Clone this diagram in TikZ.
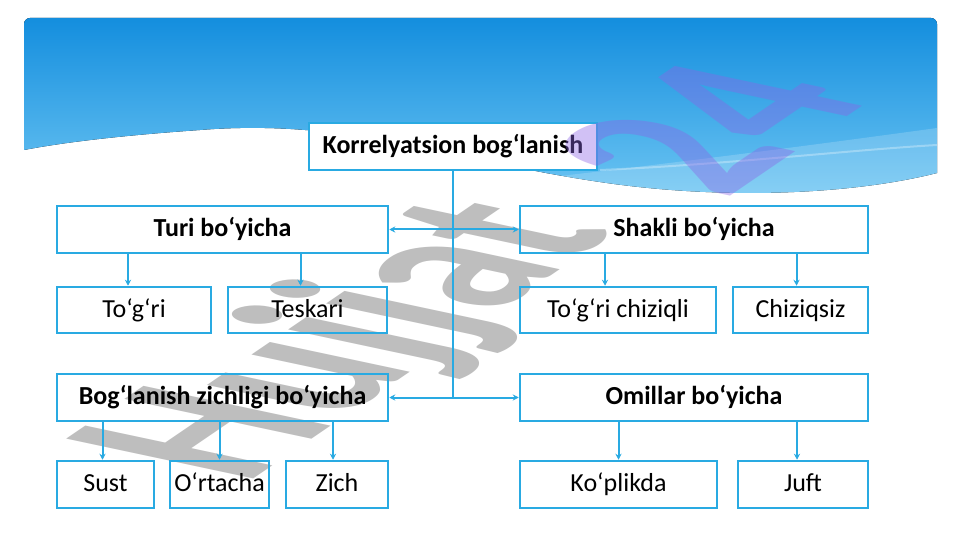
\documentclass[tikz,border=0pt]{standalone}
\usepackage{fontspec}
\setmainfont{Carlito}
\usetikzlibrary{arrows.meta}
\definecolor{ln}{RGB}{41,170,226}
\definecolor{bgtop}{RGB}{20,142,222}
\definecolor{bgbot}{RGB}{110,198,243}
\definecolor{wmgray}{RGB}{190,190,190}
\definecolor{wmblue}{RGB}{140,100,230}
\begin{document}
\begin{tikzpicture}[x=1pt,y=-1pt,
  box/.style={draw=ln, line width=2.5pt, minimum height=47pt, inner sep=0pt,
              text height=18pt, text depth=4pt,
              font=\fontsize{26}{30}\selectfont},
  hbox/.style={box, font=\fontsize{26}{30}\selectfont\bfseries},
  conn/.style={draw=ln, line width=2pt},
  arr/.style={conn, -{Stealth[length=6pt,width=6pt]}},
  biarr/.style={conn, {Stealth[length=6pt,width=6pt]}-{Stealth[length=6pt,width=6pt]}},
  wmtext/.style={transform shape, anchor=base west, inner sep=0pt,
                 font=\fontsize{100}{100}\selectfont\bfseries}
]
\useasboundingbox (0,0) rectangle (961,540);
\fill[white] (0,0) rectangle (961,540);

% header background
\fill[top color=bgtop, bottom color=bgbot]
  (24,150) [rounded corners=6pt] -- (24,18) -- (937,18) [sharp corners] -- (937,173)
  .. controls (850,195) and (720,200) .. (600,182)
  .. controls (450,160) and (350,118) .. (200,130)
  .. controls (100,137) and (50,145) .. (24,150) -- cycle;
\fill[white, opacity=0.18]
  (560,176) .. controls (700,160) and (850,140) .. (937,128) -- (937,173)
  .. controls (850,195) and (720,200) .. (600,182) -- cycle;
\draw[white, opacity=0.3, line width=2pt]
  (600,170) .. controls (720,165) and (850,150) .. (937,145);

% root box (filled, on the blue)
\node[hbox, fill=white, minimum width=288pt] (root) at (453,146.5) {Korrelyatsion bog‘lanish};

% watermark "Hujjat"
\begin{scope}[shift={(245,485)}, cm={1.486,1.014,-2.885,0.614,(0,0)}]
  \node[wmtext, text=wmgray] (wm1) at (0,0) {Hujjat};
\end{scope}

% level 1
\node[hbox, minimum width=331pt] (turi) at (222.5,229.5) {Turi bo‘yicha};
\node[hbox, minimum width=348pt] (shakli) at (694,229.5) {Shakli bo‘yicha};
\node[hbox, minimum width=331pt] (zich1) at (222.5,397.5) {Bog‘lanish zichligi bo‘yicha};
\node[hbox, minimum width=348pt] (omil) at (694,397.5) {Omillar bo‘yicha};

% level 2
\node[box, minimum width=154pt, minimum height=46pt] (togri) at (134,310) {To‘g‘ri};
\node[box, minimum width=159pt, minimum height=46pt] (teskari) at (307.5,310) {Teskari};
\node[box, minimum width=196pt, minimum height=46pt] (chiziqli) at (618,310) {To‘g‘ri chiziqli};
\node[box, minimum width=135pt, minimum height=46pt] (chiziqsiz) at (800.5,310) {Chiziqsiz};
\node[box, minimum width=97pt] (sust) at (105.5,484.5) {Sust};
\node[box, minimum width=99pt] (ortacha) at (219.5,484.5) {O‘rtacha};
\node[box, minimum width=102pt] (zich) at (337,484.5) {Zich};
\node[box, minimum width=197pt] (koplik) at (618.5,484.5) {Ko‘plikda};
\node[box, minimum width=130pt] (juft) at (803,484.5) {Juft};

% trunk and branches
\coordinate (j2) at (root.south |- zich1.east);
\draw[conn] (root.south) -- (j2);
\draw[biarr] (turi.east) -- (shakli.west);
\draw[biarr] (zich1.east) -- (omil.west);

% children arrows
\draw[arr] ([xshift=-6pt]togri.north |- turi.south) -- ([xshift=-6pt]togri.north);
\draw[arr] ([xshift=-7pt]teskari.north |- turi.south) -- ([xshift=-7pt]teskari.north);
\draw[arr] ([xshift=-13pt]chiziqli.north |- shakli.south) -- ([xshift=-13pt]chiziqli.north);
\draw[arr] ([xshift=-4pt]chiziqsiz.north |- shakli.south) -- ([xshift=-4pt]chiziqsiz.north);
\draw[arr] ([xshift=-3pt]sust.north |- zich1.south) -- ([xshift=-3pt]sust.north);
\draw[arr] (ortacha.north |- zich1.south) -- (ortacha.north);
\draw[arr] ([xshift=-4pt]zich.north |- zich1.south) -- ([xshift=-4pt]zich.north);
\draw[arr] (koplik.north |- omil.south) -- (koplik.north);
\draw[arr] ([xshift=-6pt]juft.north |- omil.south) -- ([xshift=-6pt]juft.north);

% watermark "24"
\begin{scope}[shift={(725,200)}, cm={1.486,1.014,-2.885,0.614,(0,0)}]
  \node[wmtext, text=wmblue, opacity=0.4] (wm2) at (0,0) {24};
\end{scope}
\end{tikzpicture}
\end{document}
